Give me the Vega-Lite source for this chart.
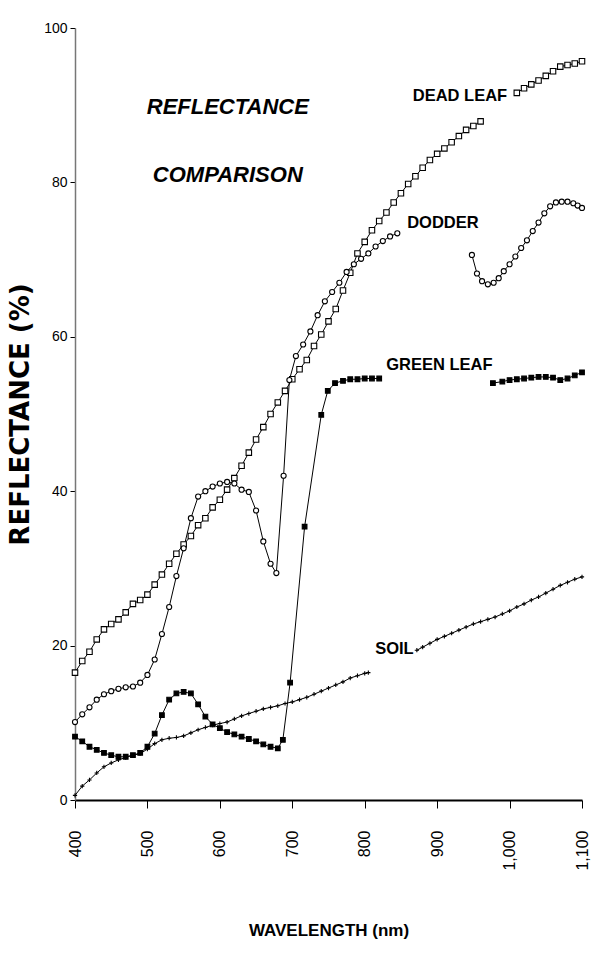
{
  "$schema": "https://vega.github.io/schema/vega-lite/v6.json",
  "width": 507,
  "height": 772,
  "autosize": {"type": "none"},
  "padding": {"left": 75, "top": 28, "right": 9, "bottom": 169},
  "background": "white",
  "config": {"view": {"stroke": null}},
  "datasets": {
    "curves": [
      {"s":"Dead leaf","g":1,"wl":400,"r":16.5},{"s":"Dead leaf","g":1,"wl":410,"r":18},{"s":"Dead leaf","g":1,"wl":420,"r":19.2},{"s":"Dead leaf","g":1,"wl":430,"r":20.8},{"s":"Dead leaf","g":1,"wl":440,"r":22.1},{"s":"Dead leaf","g":1,"wl":450,"r":22.8},{"s":"Dead leaf","g":1,"wl":460,"r":23.4},{"s":"Dead leaf","g":1,"wl":470,"r":24.3},{"s":"Dead leaf","g":1,"wl":480,"r":25.4},{"s":"Dead leaf","g":1,"wl":490,"r":25.9},{"s":"Dead leaf","g":1,"wl":500,"r":26.6},{"s":"Dead leaf","g":1,"wl":510,"r":27.9},{"s":"Dead leaf","g":1,"wl":520,"r":29.2},{"s":"Dead leaf","g":1,"wl":530,"r":30.6},{"s":"Dead leaf","g":1,"wl":540,"r":31.9},{"s":"Dead leaf","g":1,"wl":550,"r":33.1},{"s":"Dead leaf","g":1,"wl":560,"r":34.2},{"s":"Dead leaf","g":1,"wl":570,"r":35.6},{"s":"Dead leaf","g":1,"wl":580,"r":36.5},{"s":"Dead leaf","g":1,"wl":590,"r":37.9},{"s":"Dead leaf","g":1,"wl":600,"r":38.9},{"s":"Dead leaf","g":1,"wl":610,"r":40.2},{"s":"Dead leaf","g":1,"wl":620,"r":41.7},{"s":"Dead leaf","g":1,"wl":630,"r":43.3},{"s":"Dead leaf","g":1,"wl":640,"r":45},{"s":"Dead leaf","g":1,"wl":650,"r":46.7},{"s":"Dead leaf","g":1,"wl":660,"r":48.3},{"s":"Dead leaf","g":1,"wl":670,"r":50},{"s":"Dead leaf","g":1,"wl":680,"r":51.5},{"s":"Dead leaf","g":1,"wl":690,"r":53},{"s":"Dead leaf","g":1,"wl":700,"r":54.5},{"s":"Dead leaf","g":1,"wl":710,"r":55.8},{"s":"Dead leaf","g":1,"wl":720,"r":57},{"s":"Dead leaf","g":1,"wl":730,"r":58.8},{"s":"Dead leaf","g":1,"wl":740,"r":60.3},{"s":"Dead leaf","g":1,"wl":750,"r":62},{"s":"Dead leaf","g":1,"wl":760,"r":63.6},{"s":"Dead leaf","g":1,"wl":770,"r":66},{"s":"Dead leaf","g":1,"wl":780,"r":68.3},{"s":"Dead leaf","g":1,"wl":790,"r":70.8},{"s":"Dead leaf","g":1,"wl":800,"r":72.3},{"s":"Dead leaf","g":1,"wl":810,"r":73.8},{"s":"Dead leaf","g":1,"wl":820,"r":75},{"s":"Dead leaf","g":1,"wl":830,"r":76.1},{"s":"Dead leaf","g":1,"wl":840,"r":77.4},{"s":"Dead leaf","g":1,"wl":850,"r":78.6},{"s":"Dead leaf","g":1,"wl":860,"r":79.8},{"s":"Dead leaf","g":1,"wl":870,"r":80.8},{"s":"Dead leaf","g":1,"wl":880,"r":81.9},{"s":"Dead leaf","g":1,"wl":890,"r":82.9},{"s":"Dead leaf","g":1,"wl":900,"r":83.7},{"s":"Dead leaf","g":1,"wl":910,"r":84.4},{"s":"Dead leaf","g":1,"wl":920,"r":85.2},{"s":"Dead leaf","g":1,"wl":930,"r":86},{"s":"Dead leaf","g":1,"wl":940,"r":86.8},{"s":"Dead leaf","g":1,"wl":950,"r":87.3},{"s":"Dead leaf","g":1,"wl":960,"r":87.9},
      {"s":"Dead leaf","g":2,"wl":1010,"r":91.6},{"s":"Dead leaf","g":2,"wl":1020,"r":92.2},{"s":"Dead leaf","g":2,"wl":1030,"r":92.7},{"s":"Dead leaf","g":2,"wl":1040,"r":93.2},{"s":"Dead leaf","g":2,"wl":1050,"r":93.8},{"s":"Dead leaf","g":2,"wl":1060,"r":94.4},{"s":"Dead leaf","g":2,"wl":1070,"r":95},{"s":"Dead leaf","g":2,"wl":1080,"r":95.2},{"s":"Dead leaf","g":2,"wl":1090,"r":95.4},{"s":"Dead leaf","g":2,"wl":1100,"r":95.7},
      {"s":"Dodder","g":1,"wl":400,"r":10.1},{"s":"Dodder","g":1,"wl":410,"r":11.1},{"s":"Dodder","g":1,"wl":420,"r":12},{"s":"Dodder","g":1,"wl":430,"r":13},{"s":"Dodder","g":1,"wl":440,"r":13.7},{"s":"Dodder","g":1,"wl":450,"r":14.1},{"s":"Dodder","g":1,"wl":460,"r":14.4},{"s":"Dodder","g":1,"wl":470,"r":14.6},{"s":"Dodder","g":1,"wl":480,"r":14.7},{"s":"Dodder","g":1,"wl":490,"r":15.2},{"s":"Dodder","g":1,"wl":500,"r":16.2},{"s":"Dodder","g":1,"wl":510,"r":18.2},{"s":"Dodder","g":1,"wl":520,"r":21.5},{"s":"Dodder","g":1,"wl":530,"r":25},{"s":"Dodder","g":1,"wl":540,"r":29},{"s":"Dodder","g":1,"wl":550,"r":32.6},{"s":"Dodder","g":1,"wl":560,"r":36.5},{"s":"Dodder","g":1,"wl":570,"r":39.3},{"s":"Dodder","g":1,"wl":580,"r":40},{"s":"Dodder","g":1,"wl":590,"r":40.6},{"s":"Dodder","g":1,"wl":600,"r":41},{"s":"Dodder","g":1,"wl":610,"r":41.2},{"s":"Dodder","g":1,"wl":620,"r":41},{"s":"Dodder","g":1,"wl":630,"r":40.2},{"s":"Dodder","g":1,"wl":640,"r":39.9},{"s":"Dodder","g":1,"wl":650,"r":37.5},{"s":"Dodder","g":1,"wl":660,"r":33.5},{"s":"Dodder","g":1,"wl":670,"r":30.6},{"s":"Dodder","g":1,"wl":678,"r":29.4},{"s":"Dodder","g":1,"wl":688,"r":42},{"s":"Dodder","g":1,"wl":696,"r":54.4},{"s":"Dodder","g":1,"wl":705,"r":57.5},{"s":"Dodder","g":1,"wl":715,"r":59},{"s":"Dodder","g":1,"wl":725,"r":60.7},{"s":"Dodder","g":1,"wl":735,"r":62.8},{"s":"Dodder","g":1,"wl":745,"r":64.6},{"s":"Dodder","g":1,"wl":755,"r":65.8},{"s":"Dodder","g":1,"wl":765,"r":67},{"s":"Dodder","g":1,"wl":775,"r":68.4},{"s":"Dodder","g":1,"wl":785,"r":69.4},{"s":"Dodder","g":1,"wl":795,"r":70.1},{"s":"Dodder","g":1,"wl":805,"r":70.8},{"s":"Dodder","g":1,"wl":815,"r":71.7},{"s":"Dodder","g":1,"wl":825,"r":72.4},{"s":"Dodder","g":1,"wl":835,"r":73},{"s":"Dodder","g":1,"wl":845,"r":73.4},
      {"s":"Dodder","g":2,"wl":948,"r":70.6},{"s":"Dodder","g":2,"wl":955,"r":68.2},{"s":"Dodder","g":2,"wl":962,"r":67.2},{"s":"Dodder","g":2,"wl":970,"r":66.8},{"s":"Dodder","g":2,"wl":978,"r":67},{"s":"Dodder","g":2,"wl":985,"r":67.6},{"s":"Dodder","g":2,"wl":992,"r":68.5},{"s":"Dodder","g":2,"wl":1000,"r":69.4},{"s":"Dodder","g":2,"wl":1008,"r":70.4},{"s":"Dodder","g":2,"wl":1016,"r":71.5},{"s":"Dodder","g":2,"wl":1024,"r":72.5},{"s":"Dodder","g":2,"wl":1032,"r":73.7},{"s":"Dodder","g":2,"wl":1040,"r":74.8},{"s":"Dodder","g":2,"wl":1048,"r":76},{"s":"Dodder","g":2,"wl":1056,"r":76.9},{"s":"Dodder","g":2,"wl":1064,"r":77.4},{"s":"Dodder","g":2,"wl":1072,"r":77.5},{"s":"Dodder","g":2,"wl":1080,"r":77.5},{"s":"Dodder","g":2,"wl":1088,"r":77.3},{"s":"Dodder","g":2,"wl":1094,"r":77},{"s":"Dodder","g":2,"wl":1100,"r":76.7},
      {"s":"Green leaf","g":1,"wl":400,"r":8.2},{"s":"Green leaf","g":1,"wl":410,"r":7.6},{"s":"Green leaf","g":1,"wl":420,"r":6.9},{"s":"Green leaf","g":1,"wl":430,"r":6.5},{"s":"Green leaf","g":1,"wl":440,"r":6.1},{"s":"Green leaf","g":1,"wl":450,"r":5.8},{"s":"Green leaf","g":1,"wl":460,"r":5.6},{"s":"Green leaf","g":1,"wl":470,"r":5.6},{"s":"Green leaf","g":1,"wl":480,"r":5.8},{"s":"Green leaf","g":1,"wl":490,"r":6.1},{"s":"Green leaf","g":1,"wl":500,"r":6.9},{"s":"Green leaf","g":1,"wl":510,"r":8.6},{"s":"Green leaf","g":1,"wl":520,"r":11},{"s":"Green leaf","g":1,"wl":530,"r":13},{"s":"Green leaf","g":1,"wl":540,"r":13.8},{"s":"Green leaf","g":1,"wl":550,"r":14},{"s":"Green leaf","g":1,"wl":560,"r":13.8},{"s":"Green leaf","g":1,"wl":570,"r":12.4},{"s":"Green leaf","g":1,"wl":580,"r":10.8},{"s":"Green leaf","g":1,"wl":590,"r":9.8},{"s":"Green leaf","g":1,"wl":600,"r":9.3},{"s":"Green leaf","g":1,"wl":610,"r":8.8},{"s":"Green leaf","g":1,"wl":620,"r":8.5},{"s":"Green leaf","g":1,"wl":630,"r":8.2},{"s":"Green leaf","g":1,"wl":640,"r":7.9},{"s":"Green leaf","g":1,"wl":650,"r":7.6},{"s":"Green leaf","g":1,"wl":660,"r":7.2},{"s":"Green leaf","g":1,"wl":670,"r":6.9},{"s":"Green leaf","g":1,"wl":680,"r":6.7},{"s":"Green leaf","g":1,"wl":687,"r":7.8},{"s":"Green leaf","g":1,"wl":697,"r":15.2},{"s":"Green leaf","g":1,"wl":717,"r":35.4},{"s":"Green leaf","g":1,"wl":740,"r":49.9},{"s":"Green leaf","g":1,"wl":749,"r":53},{"s":"Green leaf","g":1,"wl":759,"r":54},{"s":"Green leaf","g":1,"wl":770,"r":54.3},{"s":"Green leaf","g":1,"wl":780,"r":54.5},{"s":"Green leaf","g":1,"wl":790,"r":54.5},{"s":"Green leaf","g":1,"wl":800,"r":54.6},{"s":"Green leaf","g":1,"wl":810,"r":54.6},{"s":"Green leaf","g":1,"wl":820,"r":54.6},
      {"s":"Green leaf","g":2,"wl":977,"r":54},{"s":"Green leaf","g":2,"wl":990,"r":54.2},{"s":"Green leaf","g":2,"wl":1000,"r":54.4},{"s":"Green leaf","g":2,"wl":1010,"r":54.5},{"s":"Green leaf","g":2,"wl":1020,"r":54.6},{"s":"Green leaf","g":2,"wl":1030,"r":54.7},{"s":"Green leaf","g":2,"wl":1040,"r":54.8},{"s":"Green leaf","g":2,"wl":1050,"r":54.8},{"s":"Green leaf","g":2,"wl":1060,"r":54.7},{"s":"Green leaf","g":2,"wl":1070,"r":54.4},{"s":"Green leaf","g":2,"wl":1080,"r":54.6},{"s":"Green leaf","g":2,"wl":1090,"r":55},{"s":"Green leaf","g":2,"wl":1100,"r":55.4},
      {"s":"Soil","g":1,"wl":400,"r":0.6},{"s":"Soil","g":1,"wl":410,"r":1.8},{"s":"Soil","g":1,"wl":420,"r":2.6},{"s":"Soil","g":1,"wl":430,"r":3.5},{"s":"Soil","g":1,"wl":440,"r":4.3},{"s":"Soil","g":1,"wl":450,"r":4.8},{"s":"Soil","g":1,"wl":460,"r":5.2},{"s":"Soil","g":1,"wl":470,"r":5.5},{"s":"Soil","g":1,"wl":480,"r":5.8},{"s":"Soil","g":1,"wl":490,"r":6},{"s":"Soil","g":1,"wl":500,"r":6.6},{"s":"Soil","g":1,"wl":510,"r":7.3},{"s":"Soil","g":1,"wl":520,"r":7.8},{"s":"Soil","g":1,"wl":530,"r":8},{"s":"Soil","g":1,"wl":540,"r":8.1},{"s":"Soil","g":1,"wl":550,"r":8.3},{"s":"Soil","g":1,"wl":560,"r":8.7},{"s":"Soil","g":1,"wl":570,"r":9.1},{"s":"Soil","g":1,"wl":580,"r":9.4},{"s":"Soil","g":1,"wl":590,"r":9.7},{"s":"Soil","g":1,"wl":600,"r":9.9},{"s":"Soil","g":1,"wl":610,"r":10.1},{"s":"Soil","g":1,"wl":620,"r":10.5},{"s":"Soil","g":1,"wl":630,"r":10.9},{"s":"Soil","g":1,"wl":640,"r":11.2},{"s":"Soil","g":1,"wl":650,"r":11.5},{"s":"Soil","g":1,"wl":660,"r":11.8},{"s":"Soil","g":1,"wl":670,"r":12},{"s":"Soil","g":1,"wl":680,"r":12.2},{"s":"Soil","g":1,"wl":690,"r":12.5},{"s":"Soil","g":1,"wl":700,"r":12.7},{"s":"Soil","g":1,"wl":710,"r":13},{"s":"Soil","g":1,"wl":720,"r":13.3},{"s":"Soil","g":1,"wl":730,"r":13.7},{"s":"Soil","g":1,"wl":740,"r":14.1},{"s":"Soil","g":1,"wl":750,"r":14.5},{"s":"Soil","g":1,"wl":760,"r":14.9},{"s":"Soil","g":1,"wl":770,"r":15.3},{"s":"Soil","g":1,"wl":780,"r":15.8},{"s":"Soil","g":1,"wl":790,"r":16.1},{"s":"Soil","g":1,"wl":800,"r":16.4},{"s":"Soil","g":1,"wl":805,"r":16.5},
      {"s":"Soil","g":2,"wl":872,"r":19.4},{"s":"Soil","g":2,"wl":880,"r":19.8},{"s":"Soil","g":2,"wl":890,"r":20.3},{"s":"Soil","g":2,"wl":900,"r":20.8},{"s":"Soil","g":2,"wl":910,"r":21.2},{"s":"Soil","g":2,"wl":920,"r":21.6},{"s":"Soil","g":2,"wl":930,"r":22},{"s":"Soil","g":2,"wl":940,"r":22.4},{"s":"Soil","g":2,"wl":950,"r":22.8},{"s":"Soil","g":2,"wl":960,"r":23.1},{"s":"Soil","g":2,"wl":970,"r":23.4},{"s":"Soil","g":2,"wl":980,"r":23.7},{"s":"Soil","g":2,"wl":990,"r":24.1},{"s":"Soil","g":2,"wl":1000,"r":24.5},{"s":"Soil","g":2,"wl":1010,"r":25},{"s":"Soil","g":2,"wl":1020,"r":25.4},{"s":"Soil","g":2,"wl":1030,"r":25.9},{"s":"Soil","g":2,"wl":1040,"r":26.3},{"s":"Soil","g":2,"wl":1050,"r":26.8},{"s":"Soil","g":2,"wl":1060,"r":27.3},{"s":"Soil","g":2,"wl":1070,"r":27.8},{"s":"Soil","g":2,"wl":1080,"r":28.2},{"s":"Soil","g":2,"wl":1090,"r":28.6},{"s":"Soil","g":2,"wl":1100,"r":28.9}
    ],
    "heading": [
      {"t":"REFLECTANCE","wl":611,"r":89.8},
      {"t":"COMPARISON","wl":611,"r":81}
    ],
    "names": [
      {"t":"DEAD LEAF","wl":931.5,"r":91.2},
      {"t":"DODDER","wl":908,"r":74.7},
      {"t":"GREEN LEAF","wl":903,"r":56.3},
      {"t":"SOIL","wl":841,"r":19.6}
    ]
  },
  "encoding": {
    "x": {
      "field": "wl", "type": "quantitative",
      "scale": {"domain": [400, 1100], "nice": false, "zero": false},
      "axis": {
        "values": [400, 500, 600, 700, 800, 900, 1000, 1100],
        "format": ",d",
        "grid": false,
        "labelAngle": 270,
        "labelFont": "Liberation Sans",
        "labelFontSize": 16,
        "labelColor": "black",
        "labelPadding": 22,
        "tickSize": 8,
        "tickColor": "black",
        "domainColor": "black",
        "domainWidth": 2,
        "title": "WAVELENGTH (nm)",
        "titleFont": "Liberation Sans",
        "titleFontSize": 17,
        "titleFontWeight": "bold",
        "titleColor": "black",
        "titlePadding": 52
      }
    },
    "y": {
      "field": "r", "type": "quantitative",
      "scale": {"domain": [0, 100], "nice": false},
      "axis": {
        "values": [0, 20, 40, 60, 80, 100],
        "grid": false,
        "labelFont": "Liberation Sans",
        "labelFontSize": 14,
        "labelColor": "black",
        "labelPadding": 3,
        "tickSize": 5,
        "tickColor": "black",
        "domainColor": "#777777",
        "domainWidth": 1.5,
        "title": "REFLECTANCE (%)",
        "titleFont": "DejaVu Sans",
        "titleFontSize": 26,
        "titleFontWeight": "bold",
        "titleColor": "black",
        "titlePadding": 10
      }
    }
  },
  "layer": [
    {
      "data": {"name": "curves"},
      "mark": {"type": "line", "color": "black", "strokeWidth": 1},
      "encoding": {"detail": [{"field": "s"}, {"field": "g"}]}
    },
    {
      "data": {"name": "curves"},
      "mark": {"type": "point", "filled": true, "stroke": "black", "strokeWidth": 1.1, "opacity": 1},
      "encoding": {
        "shape": {"field": "s", "type": "nominal", "legend": null,
          "scale": {"domain": ["Dead leaf", "Dodder", "Green leaf", "Soil"], "range": ["square", "circle", "square", "M-1,0H1M0,-1V1"]}},
        "fill": {"field": "s", "type": "nominal", "legend": null,
          "scale": {"domain": ["Dead leaf", "Dodder", "Green leaf", "Soil"], "range": ["white", "white", "black", "black"]}},
        "size": {"field": "s", "type": "nominal", "legend": null,
          "scale": {"domain": ["Dead leaf", "Dodder", "Green leaf", "Soil"], "range": [30, 18, 28, 36]}}
      }
    },
    {
      "data": {"name": "heading"},
      "mark": {"type": "text", "align": "center", "baseline": "middle", "font": "Liberation Sans", "fontSize": 22, "fontWeight": "bold", "fontStyle": "italic", "color": "black"},
      "encoding": {"text": {"field": "t"}}
    },
    {
      "data": {"name": "names"},
      "mark": {"type": "text", "align": "center", "baseline": "middle", "font": "Liberation Sans", "fontSize": 16.5, "fontWeight": "bold", "color": "black"},
      "encoding": {"text": {"field": "t"}}
    }
  ]
}
